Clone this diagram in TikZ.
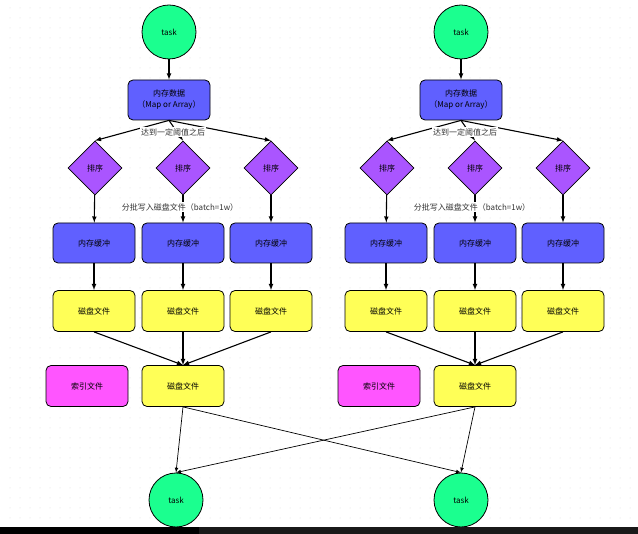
\documentclass[tikz,border=0pt]{standalone}
\usepackage{fontspec}
\setmainfont{Noto Sans CJK SC}
\usepackage{tikz}
\usetikzlibrary{positioning}
\usetikzlibrary{arrows}
\usetikzlibrary{shapes.geometric}
\tikzset{>=latex}
\definecolor{taskgreen}{HTML}{1BFF8F}
\definecolor{memblue}{HTML}{6060FF}
\definecolor{sortpurple}{HTML}{AA55FF}
\definecolor{fileyellow}{HTML}{FFFF57}
\definecolor{indexpink}{HTML}{FF55FF}
\tikzstyle{tasknode}=[black,draw=black,line width=0.8pt,shape=circle,fill=taskgreen,minimum size=54pt,inner sep=0pt,font=\fontsize{8}{10}\selectfont]
\tikzstyle{memnode}=[black,draw=black,line width=0.8pt,shape=rectangle,rounded corners=5pt,fill=memblue,minimum width=82pt,minimum height=40pt,align=center,font=\fontsize{8}{11}\selectfont]
\tikzstyle{sortnode}=[black,draw=black,line width=0.8pt,shape=diamond,fill=sortpurple,minimum width=54pt,minimum height=54pt,inner sep=0pt,font=\fontsize{8}{10}\selectfont]
\tikzstyle{filenode}=[black,draw=black,line width=0.8pt,shape=rectangle,rounded corners=5pt,fill=fileyellow,minimum width=82pt,minimum height=41pt,font=\fontsize{8}{10}\selectfont]
\tikzstyle{indexnode}=[black,draw=black,line width=0.8pt,shape=rectangle,rounded corners=5pt,fill=indexpink,minimum width=82pt,minimum height=41pt,font=\fontsize{8}{10}\selectfont]
\tikzstyle{edgelabel}=[black!80,fill=white,inner sep=1pt,font=\fontsize{8}{10}\selectfont]
\tikzstyle{flow}=[->,line width=1.1pt,color=black]
\tikzstyle{thinflow}=[->,line width=0.7pt,color=black]
\begin{document}
\begin{tikzpicture}[x=1pt,y=-1pt]
	\useasboundingbox (0,0) rectangle (638,534);
	\fill[white] (0,0) rectangle (638,534);
	
	% Grid
	\foreach \gx in {10,20,...,630} {
		\foreach \gy in {8,18,...,518} {
			\fill[black!15] (\gx,\gy) circle (0.5pt);
		}
	}
	
	% Left task
	\begin{scope}[xshift = 0pt]
	\node[tasknode] (taskl) at (169, 32) {task};
	\node[memnode] (datal) at (169, 100) {内存数据\\（Map or Array）};
	\node[sortnode] (sortl1) at (95, 168) {排序};
	\node[sortnode] (sortl2) at (183, 168) {排序};
	\node[sortnode] (sortl3) at (271, 168) {排序};
	\node[memnode] (bufl1) at (94, 243) {内存缓冲};
	\node[memnode] (bufl2) at (183, 243) {内存缓冲};
	\node[memnode] (bufl3) at (271, 243) {内存缓冲};
	\node[filenode] (filel1) at (94, 311) {磁盘文件};
	\node[filenode] (filel2) at (183, 311) {磁盘文件};
	\node[filenode] (filel3) at (271, 311) {磁盘文件};
	\node[indexnode] (indexl) at (87, 386) {索引文件};
	\node[filenode] (mergel) at (183, 386) {磁盘文件};
	\draw[flow] (taskl) -- (datal);
	\draw[flow] (datal.south) -- (sortl1.north);
	\draw[flow] (datal.south) -- (sortl2.north);
	\draw[flow] (datal.south) -- (sortl3.north);
	\draw[flow] (sortl1) -- (bufl1);
	\draw[flow] (sortl2) -- (bufl2);
	\draw[flow] (sortl3) -- (bufl3);
	\draw[flow] (bufl1) -- (filel1);
	\draw[flow] (bufl2) -- (filel2);
	\draw[flow] (bufl3) -- (filel3);
	\draw[flow] (filel1.south) -- (mergel.north);
	\draw[flow] (filel2.south) -- (mergel.north);
	\draw[flow] (filel3.south) -- (mergel.north);
	\node[edgelabel] (limitl) at (173, 132) {达到一定阈值之后};
	\node[edgelabel] (batchl) at (180, 207) {分批写入磁盘文件（batch=1w）};
	\end{scope}
	
	% Right task
	\begin{scope}[xshift = 292pt]
	\node[tasknode] (taskr) at (169, 32) {task};
	\node[memnode] (datar) at (169, 100) {内存数据\\（Map or Array）};
	\node[sortnode] (sortr1) at (95, 168) {排序};
	\node[sortnode] (sortr2) at (183, 168) {排序};
	\node[sortnode] (sortr3) at (271, 168) {排序};
	\node[memnode] (bufr1) at (94, 243) {内存缓冲};
	\node[memnode] (bufr2) at (183, 243) {内存缓冲};
	\node[memnode] (bufr3) at (271, 243) {内存缓冲};
	\node[filenode] (filer1) at (94, 311) {磁盘文件};
	\node[filenode] (filer2) at (183, 311) {磁盘文件};
	\node[filenode] (filer3) at (271, 311) {磁盘文件};
	\node[indexnode] (indexr) at (87, 386) {索引文件};
	\node[filenode] (merger) at (183, 386) {磁盘文件};
	\draw[flow] (taskr) -- (datar);
	\draw[flow] (datar.south) -- (sortr1.north);
	\draw[flow] (datar.south) -- (sortr2.north);
	\draw[flow] (datar.south) -- (sortr3.north);
	\draw[flow] (sortr1) -- (bufr1);
	\draw[flow] (sortr2) -- (bufr2);
	\draw[flow] (sortr3) -- (bufr3);
	\draw[flow] (bufr1) -- (filer1);
	\draw[flow] (bufr2) -- (filer2);
	\draw[flow] (bufr3) -- (filer3);
	\draw[flow] (filer1.south) -- (merger.north);
	\draw[flow] (filer2.south) -- (merger.north);
	\draw[flow] (filer3.south) -- (merger.north);
	\node[edgelabel] (limitr) at (173, 132) {达到一定阈值之后};
	\node[edgelabel] (batchr) at (180, 207) {分批写入磁盘文件（batch=1w）};
	\end{scope}
	
	% Next tasks
	\node[tasknode] (nextl) at (176, 500) {task};
	\node[tasknode] (nextr) at (461, 500) {task};
	\draw[thinflow] (mergel.south) -- (nextl.north);
	\draw[thinflow] (mergel.south) -- (nextr.north);
	\draw[thinflow] (merger.south) -- (nextr.north);
	\draw[thinflow] (merger.south) -- (nextl.north);
	
	% Bottom bar
	\fill[black] (0, 527) rectangle (199, 534);
	\fill[black!90] (199, 527) rectangle (638, 534);
	
\end{tikzpicture}
\end{document}
